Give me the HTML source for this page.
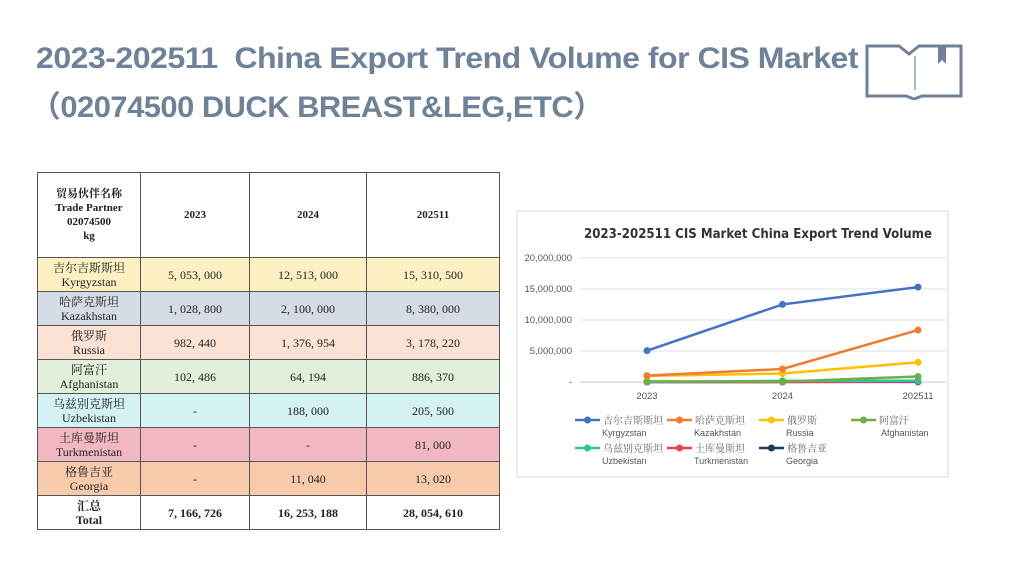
<!DOCTYPE html>
<html><head><meta charset="utf-8"><style>
body{margin:0;width:1024px;height:574px;background:#fff;position:relative;overflow:hidden;font-family:"Liberation Sans","Noto Sans CJK SC",sans-serif}
.t{position:absolute;left:36px;color:#6f8298;font-weight:bold;font-size:30px;white-space:nowrap;letter-spacing:-0.5px;transform-origin:0 0}
table{position:absolute;left:37px;top:172px;border-collapse:collapse;font-family:"Liberation Serif","Noto Serif CJK SC",serif;font-size:12px;color:#222}
td{border:1px solid #555;text-align:center;padding:0;line-height:14px}
.h td{height:84px;font-weight:bold;font-size:11px}
tr.r td{height:33px}
</style></head><body>
<div class="t" style="top:42px;transform:scaleX(1.07)">2023-202511&nbsp; China Export Trend Volume for CIS Market</div>
<div class="t" style="top:82px;left:30px;transform:scaleX(1.03)">（02074500 DUCK BREAST&amp;LEG,ETC）</div>
<svg style="position:absolute;left:864px;top:42px" width="100" height="58"><path d="M3 4h32l10 8 10-8h42v50H58l-8 3-8-3H3z" fill="none" stroke="#6f8298" stroke-width="3"/><line x1="51" y1="14" x2="51" y2="48" stroke="#aab6c4" stroke-width="2"/><path d="M74 4v18l4-4 4 4V4" fill="#6f8298"/></svg>
<table>
<colgroup><col style="width:103px"><col style="width:109px"><col style="width:117px"><col style="width:133px"></colgroup>
<tr class="h"><td>贸易伙伴名称<br>Trade Partner<br>02074500<br>kg</td><td>2023</td><td>2024</td><td>202511</td></tr>
<tr class="r" style="background:#fdf1c4"><td>吉尔吉斯斯坦<br>Kyrgyzstan</td><td>5, 053, 000</td><td>12, 513, 000</td><td>15, 310, 500</td></tr>
<tr class="r" style="background:#d6dce5"><td>哈萨克斯坦<br>Kazakhstan</td><td>1, 028, 800</td><td>2, 100, 000</td><td>8, 380, 000</td></tr>
<tr class="r" style="background:#fbe2d5"><td>俄罗斯<br>Russia</td><td>982, 440</td><td>1, 376, 954</td><td>3, 178, 220</td></tr>
<tr class="r" style="background:#e2efda"><td>阿富汗<br>Afghanistan</td><td>102, 486</td><td>64, 194</td><td>886, 370</td></tr>
<tr class="r" style="background:#d4f2f4"><td>乌兹别克斯坦<br>Uzbekistan</td><td>-</td><td>188, 000</td><td>205, 500</td></tr>
<tr class="r" style="background:#f2b8c2"><td>土库曼斯坦<br>Turkmenistan</td><td>-</td><td>-</td><td>81, 000</td></tr>
<tr class="r" style="background:#f7caac"><td>格鲁吉亚<br>Georgia</td><td>-</td><td>11, 040</td><td>13, 020</td></tr>
<tr class="r" style="background:#fff;font-weight:bold"><td>汇总<br>Total</td><td>7, 166, 726</td><td>16, 253, 188</td><td>28, 054, 610</td></tr>
</table>
<svg id="ch" style="position:absolute;left:0;top:0" width="1024" height="574"></svg>
<script>
const categories=["2023","2024","202511"];
const namesCn=["吉尔吉斯斯坦","哈萨克斯坦","俄罗斯","阿富汗","乌兹别克斯坦","土库曼斯坦","格鲁吉亚"];
const namesEn=["Kyrgyzstan","Kazakhstan","Russia","Afghanistan","Uzbekistan","Turkmenistan","Georgia"];
const kyrgyzstan=[5053000,12513000,15310500];
const kazakhstan=[1028800,2100000,8380000];
const russia=[982440,1376954,3178220];
const afghanistan=[102486,64194,886370];
const uzbekistan=[0,188000,205500];
const turkmenistan=[0,0,81000];
const georgia=[0,11040,13020];
const ticks=[0,5000000,10000000,15000000,20000000];
const tickLabels=["-","5,000,000","10,000,000","15,000,000","20,000,000"];
const series=[kyrgyzstan,kazakhstan,russia,afghanistan,uzbekistan,turkmenistan,georgia];
const colors=["#4472c4","#ed7d31","#ffc000","#70ad47","#2ec4a0","#e8405a","#1f3864"];
const S=document.getElementById('ch'),NS="http://www.w3.org/2000/svg";
function mk(t,a,txt){const e=document.createElementNS(NS,t);for(const k in a)e.setAttribute(k,a[k]);if(txt!=null)e.textContent=txt;S.appendChild(e);return e;}
const y=v=>382-v/20000000*124, x=i=>647+i*135.5;
let e=mk('rect',{x:517,y:211,width:431,height:266,fill:'#fff',stroke:'#d9d9d9'});


e=mk('text',{x:758,y:238,'text-anchor':'middle','font-size':13,'font-weight':'bold',fill:'#333','font-family':'DejaVu Sans, sans-serif',textLength:348,lengthAdjust:'spacingAndGlyphs'},'2023-202511 CIS Market China Export Trend Volume');


ticks.forEach((t,i)=>{
 e=mk('line',{x1:580,x2:946,y1:y(t),y2:y(t),stroke:i?'#e0e0e0':'#c8c8c8'});
 
 
 e=mk('text',{x:572,y:y(t)+3,'text-anchor':'end','font-size':9.5,fill:'#555'},tickLabels[i]);
 
 
});
categories.forEach((c,i)=>{
 e=mk('text',{x:x(i),y:399,'text-anchor':'middle','font-size':9.5,fill:'#555'},c);
 
 
});
for(let s=series.length-1;s>=0;s--){
 const d=series[s];
 e=mk('polyline',{points:d.map((v,i)=>x(i)+','+y(v)).join(' '),fill:'none',stroke:colors[s],'stroke-width':2.5});
 
 
 d.forEach((v,i)=>{
  e=mk('circle',{cx:x(i),cy:y(v),r:3.5,fill:colors[s]});
  
  
 });
}
namesEn.forEach((n,s)=>{
 const lx=575+(s%4)*92, ly=s<4?420:448;
 e=mk('line',{x1:lx,x2:lx+25,y1:ly,y2:ly,stroke:colors[s],'stroke-width':2.5});
 
 
 e=mk('circle',{cx:lx+12.5,cy:ly,r:3.5,fill:colors[s]});
 
 
 e=mk('text',{x:lx+28,y:ly+4,'font-size':10,fill:'#666','font-family':'Noto Serif CJK SC, serif'},namesCn[s]);
 
 
 e=mk('text',{x:s==3?lx+30:lx+27,y:ly+16,'font-size':9,fill:'#555'},n);
 
 
});
</script>
</body></html>
